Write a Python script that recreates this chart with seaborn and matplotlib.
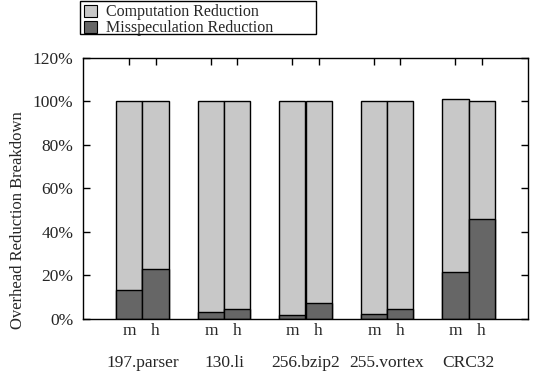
import matplotlib
matplotlib.use("Agg")
import matplotlib.pyplot as plt
import matplotlib.transforms as mtransforms
from matplotlib.patches import Patch, Rectangle
import seaborn as sns
import pandas as pd

benchmarks = ["197.parser", "130.li", "256.bzip2", "255.vortex", "CRC32"]
variants = ["m", "h"]
# total reduction (computation + misspeculation), in percent
total_m = [100, 100, 100, 100, 101]
total_h = [100, 100, 100, 100, 100]
# misspeculation reduction part, in percent
missp_m = [13.2, 3.2, 1.8, 2.1, 21.6]
missp_h = [22.9, 4.6, 7.3, 4.7, 45.7]

rows = []
for i, b in enumerate(benchmarks):
    rows.append(dict(bench=b, var="m", total=total_m[i], missp=missp_m[i]))
    rows.append(dict(bench=b, var="h", total=total_h[i], missp=missp_h[i]))
df = pd.DataFrame(rows)

sns.set_theme(style="white")
plt.rcParams["font.family"] = ["Liberation Serif", "DejaVu Serif"]
plt.rcParams["font.size"] = 12

light = "#c8c8c8"
dark = "#666666"

fig = plt.figure(figsize=(5.36, 3.76), dpi=100)
ax = fig.add_axes([83 / 536, (376 - 319) / 376, 445 / 536, (319 - 57.5) / 376])

sns.barplot(data=df, x="bench", y="total", hue="var", order=benchmarks,
            hue_order=variants, palette=[light, light], width=0.64, gap=0,
            edgecolor="black", linewidth=1.0, saturation=1, legend=False, ax=ax,
            errorbar=None)
sns.barplot(data=df, x="bench", y="missp", hue="var", order=benchmarks,
            hue_order=variants, palette=[dark, dark], width=0.64, gap=0,
            edgecolor="black", linewidth=1.0, saturation=1, legend=False, ax=ax,
            errorbar=None)

ax.set_xlim(-0.73, 4.73)
ax.set_ylim(0, 120)
yt = [0, 20, 40, 60, 80, 100, 120]
ax.set_yticks(yt)
ax.set_yticklabels([f"{v}%" for v in yt])

pos = []
labs = []
for i in range(len(benchmarks)):
    pos += [i - 0.16, i + 0.16]
    labs += variants
ax.set_xticks(pos)
ax.set_xticklabels(labs)
ax.set_xlabel("")
ax.set_ylabel("Overhead Reduction Breakdown", fontsize=12)
ax.yaxis.set_label_coords(-0.128, 0.38)

ax.tick_params(axis="both", direction="in", length=5, width=1, color="black",
               top=True, right=True, bottom=True, left=True, labelsize=12.5)
ax.tick_params(axis="y", pad=7)
ax.tick_params(axis="x", pad=3)
for s in ax.spines.values():
    s.set_color("black")
    s.set_linewidth(1.0)

trans = mtransforms.blended_transform_factory(ax.transData, ax.transAxes)
for i, b in enumerate(benchmarks):
    ax.text(i, -0.167, b, transform=trans, ha="center", va="center", fontsize=12.5)

handles = [Patch(facecolor=light, edgecolor="black", linewidth=0.8, label="Computation Reduction"),
           Patch(facecolor=dark, edgecolor="black", linewidth=0.8, label="Misspeculation Reduction")]
leg = fig.legend(handles=handles, loc="upper left",
                 bbox_to_anchor=(80 / 536, 1 - 0.5 / 376), frameon=False,
                 handlelength=0.8, handleheight=0.8,
                 handletextpad=0.6, labelspacing=0.0, borderpad=0.25,
                 borderaxespad=0, fontsize=11.5)
fig.patches.append(Rectangle((80 / 536, 1 - 34 / 376), 236 / 536, 33 / 376,
                             transform=fig.transFigure, fill=False,
                             edgecolor="black", linewidth=1.0))

fig.savefig("out.png", dpi=100)
